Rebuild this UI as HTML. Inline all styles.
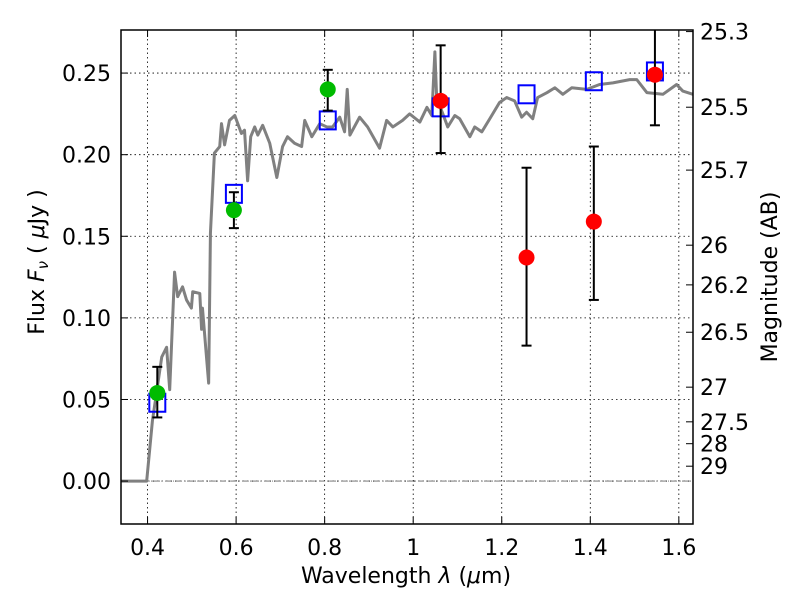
<!DOCTYPE html>
<html><head><meta charset="utf-8"><style>
body{margin:0;background:#fff;}
svg{display:block;font-family:"DejaVu Sans","Liberation Sans",sans-serif;}
</style></head><body>
<svg id="chart" width="800" height="600" viewBox="0 0 800 600" xmlns="http://www.w3.org/2000/svg"></svg>
<script>
const specLam=[0.337,0.398,0.411,0.432,0.443,0.450,0.461,0.468,0.479,0.488,0.499,0.502,0.518,0.522,0.524,0.538,0.542,0.551,0.563,0.567,0.574,0.585,0.597,0.612,0.619,0.626,0.633,0.642,0.649,0.660,0.676,0.692,0.705,0.716,0.732,0.748,0.755,0.771,0.789,0.805,0.818,0.834,0.845,0.851,0.857,0.879,0.897,0.924,0.940,0.954,0.976,0.992,1.015,1.031,1.042,1.049,1.053,1.067,1.078,1.094,1.105,1.128,1.139,1.155,1.173,1.195,1.211,1.229,1.245,1.256,1.270,1.281,1.302,1.320,1.338,1.358,1.392,1.421,1.451,1.489,1.505,1.528,1.564,1.595,1.609,1.632];
const specFlux=[0,0,0.037,0.076,0.082,0.056,0.128,0.113,0.119,0.111,0.106,0.116,0.115,0.093,0.106,0.060,0.152,0.201,0.205,0.219,0.206,0.221,0.224,0.213,0.215,0.184,0.211,0.217,0.212,0.218,0.207,0.186,0.205,0.211,0.207,0.205,0.221,0.211,0.219,0.217,0.217,0.223,0.214,0.240,0.212,0.223,0.217,0.204,0.221,0.217,0.221,0.225,0.220,0.229,0.224,0.263,0.235,0.225,0.217,0.224,0.222,0.211,0.217,0.214,0.222,0.232,0.235,0.233,0.223,0.226,0.222,0.235,0.238,0.241,0.237,0.241,0.240,0.243,0.244,0.246,0.246,0.238,0.237,0.243,0.239,0.237];
const modelLam=[0.422,0.595,0.807,1.062,1.256,1.408,1.546];
const modelFlux=[0.048,0.176,0.221,0.229,0.237,0.245,0.251];
const greenLam=[0.422,0.595,0.807];
const greenFlux=[0.054,0.166,0.240];
const greenLo=[0.039,0.155,0.227];
const greenHi=[0.070,0.177,0.252];
const redLam=[1.062,1.256,1.408,1.546];
const redFlux=[0.233,0.137,0.159,0.249];
const redLo=[0.201,0.083,0.111,0.218];
const redHi=[0.267,0.192,0.205,0.285];
const xTicks=[0.4,0.6,0.8,1.0,1.2,1.4,1.6];
const xTickLabels=["0.4","0.6","0.8","1","1.2","1.4","1.6"];
const yTicks=[0,0.05,0.10,0.15,0.20,0.25];
const yTickLabels=["0.00","0.05","0.10","0.15","0.20","0.25"];
const magTicks=[25.3,25.5,25.7,26,26.2,26.5,27,27.5,28,29];
const magTickLabels=["25.3","25.5","25.7","26","26.2","26.5","27","27.5","28","29"];

const L=121,R=693,T=30,B=524,X0=0.34,X1=1.632,Y0=-0.0263,Y1=0.2764;
const sx=v=>L+(v-X0)/(X1-X0)*(R-L);
const sy=v=>B-(v-Y0)/(Y1-Y0)*(B-T);
const magToFlux=m=>Math.pow(10,(23.9-m)/2.5);
const svg=document.getElementById('chart');
const NS='http://www.w3.org/2000/svg';
function mk(tag,at,parent){const e=document.createElementNS(NS,tag);for(const k in at)e.setAttribute(k,at[k]);(parent||svg).appendChild(e);return e;}

const defs=mk('defs',{});const cp=mk('clipPath',{id:'c'},defs);mk('rect',{x:L,y:T,width:R-L,height:B-T},cp);

xTicks.forEach(v=>{const g=mk('line',{x1:sx(v),x2:sx(v),y1:T,y2:B,stroke:'#000','stroke-width':0.8,'stroke-dasharray':'1.5,3'});

});
yTicks.forEach(v=>{const g=mk('line',{x1:L,x2:R,y1:sy(v),y2:sy(v),stroke:'#000','stroke-width':0.8,'stroke-dasharray':'1.5,3'});

});
const zl=mk('line',{x1:L,x2:R,y1:sy(0),y2:sy(0),stroke:'#666','stroke-width':0.8,'stroke-dasharray':'6,2,1,2'});



const sp=mk('polyline',{points:specLam.map((l,i)=>sx(l)+','+sy(specFlux[i])).join(' '),fill:'none',stroke:'#808080','stroke-width':3,'stroke-linejoin':'round','clip-path':'url(#c)'});



modelLam.forEach((l,i)=>{const r=mk('rect',{x:sx(l)-8,y:sy(modelFlux[i])-9,width:16,height:18,fill:'none',stroke:'#0000ff','stroke-width':2});

});

function errbar(l,lo,hi,name){const g=mk('g',{'clip-path':'url(#c)'});


const x=sx(l);mk('line',{x1:x,x2:x,y1:sy(lo),y2:sy(hi),stroke:'#000','stroke-width':2},g);
[lo,hi].forEach(v=>mk('line',{x1:x-5,x2:x+5,y1:sy(v),y2:sy(v),stroke:'#000','stroke-width':2},g));}
greenLam.forEach((l,i)=>errbar(l,greenLo[i],greenHi[i],'green-error-bar'));
redLam.forEach((l,i)=>errbar(l,redLo[i],redHi[i],'red-error-bar'));
greenLam.forEach((l,i)=>{const c=mk('circle',{cx:sx(l),cy:sy(greenFlux[i]),r:8,fill:'#00bb00'});

});
redLam.forEach((l,i)=>{const c=mk('circle',{cx:sx(l),cy:sy(redFlux[i]),r:8,fill:'#ff0000','clip-path':'url(#c)'});

});

const fr=mk('rect',{x:L,y:T,width:R-L,height:B-T,fill:'none',stroke:'#000','stroke-width':1.5});



xTicks.forEach((v,i)=>{const x=sx(v);
mk('line',{x1:x,x2:x,y1:B,y2:B-7,stroke:'#000'});mk('line',{x1:x,x2:x,y1:T,y2:T+7,stroke:'#000'});
const t=mk('text',{x:x,y:B+31,'font-size':22,'text-anchor':'middle'});t.textContent=xTickLabels[i];

});
yTicks.forEach((v,i)=>{const y=sy(v);
mk('line',{x1:L,x2:L+7,y1:y,y2:y,stroke:'#000'});
const t=mk('text',{x:L-10,y:y+8,'font-size':22,'text-anchor':'end'});t.textContent=yTickLabels[i];

});
magTicks.forEach((m,i)=>{const y=sy(magToFlux(m));
mk('line',{x1:R,x2:R-7,y1:y,y2:y,stroke:'#000'});
const t=mk('text',{x:R+7,y:y+8,'font-size':22,'text-anchor':'start'});t.textContent=magTickLabels[i];

});
</script>
<svg style="position:absolute;left:0;top:0" width="800" height="600">
<text x="406" y="583" font-size="22" text-anchor="middle" font-family="DejaVu Sans, Liberation Sans, sans-serif">Wavelength  <tspan font-style="italic">λ</tspan> (<tspan font-style="italic">μ</tspan>m)</text>
<text transform="translate(44,262) rotate(-90)" font-size="22" text-anchor="middle" font-family="DejaVu Sans, Liberation Sans, sans-serif">Flux  <tspan font-style="italic">F</tspan><tspan font-style="italic" font-size="15" dy="4">ν</tspan><tspan dy="-4">  ( </tspan><tspan font-style="italic">μ</tspan>Jy )</text>
<text transform="translate(777,277) rotate(-90)" font-size="22" text-anchor="middle" font-family="DejaVu Sans, Liberation Sans, sans-serif">Magnitude (AB)</text>
</svg>
</body></html>
